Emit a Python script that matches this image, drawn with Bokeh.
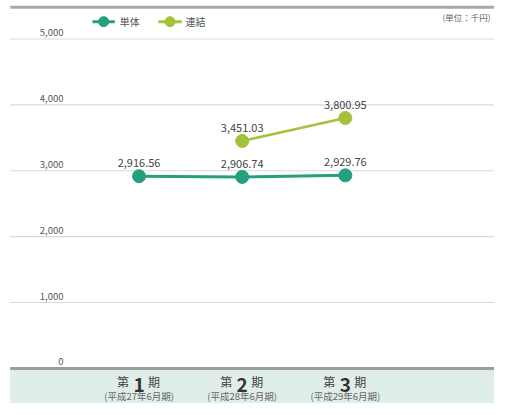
from bokeh.plotting import figure
from bokeh.models import Range1d
from bokeh.core.properties import value
from bokeh.embed import file_html
from bokeh.resources import INLINE

# ---- data ----
categories = ["第1期", "第2期", "第3期"]
period_nums = ["1", "2", "3"]
sub_labels = ["(平成27年6月期)", "(平成28年6月期)", "(平成29年6月期)"]
tantai = [2916.56, 2906.74, 2929.76]          # 単体
renketsu_cats = ["第2期", "第3期"]
renketsu = [3451.03, 3800.95]                 # 連結
y_ticks = [0, 1000, 2000, 3000, 4000, 5000]
y_tick_labels = ["0", "1,000", "2,000", "3,000", "4,000", "5,000"]
unit_label = "(単位：千円)"

TEAL = "#24a07f"
LIME = "#a3c23b"
FONT = "Noto Sans CJK JP"

W, H = 494, 403
REF_W, REF_H = 510, 419
X0, X1 = -0.343, 4.446
Y0, Y1 = -533.0, 5584.0


def xd(xr):
    return X0 + xr / REF_W * (X1 - X0)


def yd(yr):
    return Y1 - yr / REF_H * (Y1 - Y0)


xpos = {c: i + 1 for i, c in enumerate(categories)}
xs = [xpos[c] for c in categories]
xs_r = [xpos[c] for c in renketsu_cats]

p = figure(width=W, height=H, output_backend="svg", toolbar_location=None,
           x_range=Range1d(X0, X1), y_range=Range1d(Y0, Y1),
           x_axis_type=None, y_axis_type=None, min_border=0)
p.grid.visible = False
p.outline_line_color = None
p.background_fill_color = "white"

# bottom band
p.quad(left=xd(10), right=X1, top=yd(383), bottom=Y0,
       fill_color="#e0eee9", line_color=None)

# top rule and unit label
p.segment(x0=xd(10), x1=X1, y0=yd(7), y1=yd(7), line_color="#a9a9a9", line_width=3)
p.text(x=[xd(506)], y=[yd(11)], text=[unit_label], text_align="right",
       text_baseline="top", text_font=value(FONT), text_font_size="8.5px",
       text_color="#666666")

# gridlines
grid_y = [t for t in y_ticks if t != 0]
p.segment(x0=[xd(10)] * len(grid_y), x1=[X1] * len(grid_y), y0=grid_y, y1=grid_y,
          line_color="#d9d9d9", line_width=1.2)
p.segment(x0=xd(10), x1=X1, y0=0, y1=0, line_color="#9c9c9c", line_width=3)

# y tick labels
p.text(x=[xd(65)] * len(y_ticks), y=y_ticks, text=y_tick_labels, text_align="right",
       text_baseline="bottom", y_offset=-3, text_font=value(FONT),
       text_font_size="9.5px", text_color="#555555")

# series
p.line(xs, tantai, line_color=TEAL, line_width=3)
p.scatter(xs, tantai, size=13, fill_color=TEAL, line_color=TEAL)
p.line(xs_r, renketsu, line_color=LIME, line_width=2.5)
p.scatter(xs_r, renketsu, size=13, fill_color=LIME, line_color=LIME)

p.text(x=xs, y=tantai, text=[f"{v:,.2f}" for v in tantai], text_align="center",
       text_baseline="bottom", y_offset=-9, text_font=value(FONT),
       text_font_size="11px", text_color="#444444")
p.text(x=xs_r, y=renketsu, text=[f"{v:,.2f}" for v in renketsu], text_align="center",
       text_baseline="bottom", y_offset=-9, text_font=value(FONT),
       text_font_size="11px", text_color="#444444")

# legend (manual)
ly = yd(22)
p.segment(x0=xd(95), x1=xd(118), y0=ly, y1=ly, line_color=TEAL, line_width=3)
p.scatter([xd(106.5)], [ly], size=10, fill_color=TEAL, line_color=TEAL)
p.text(x=[xd(123)], y=[ly], text=["単体"], text_align="left", text_baseline="middle",
       text_font=value(FONT), text_font_size="10px", text_color="#555555")
p.segment(x0=xd(163), x1=xd(187), y0=ly, y1=ly, line_color=LIME, line_width=3)
p.scatter([xd(175)], [ly], size=10, fill_color=LIME, line_color=LIME)
p.text(x=[xd(191)], y=[ly], text=["連結"], text_align="left", text_baseline="middle",
       text_font=value(FONT), text_font_size="10px", text_color="#555555")

# x category labels
lab_y = [yd(405)] * len(xs)
p.text(x=xs, y=lab_y, text=["第"] * len(xs), text_align="right", text_baseline="bottom",
       x_offset=-10, text_font=value(FONT), text_font_size="12px", text_color="#444444")
p.text(x=xs, y=lab_y, text=period_nums, text_align="center", text_baseline="bottom",
       y_offset=2, text_font=value(FONT), text_font_size="19px", text_font_style="bold",
       text_color="#333333")
p.text(x=xs, y=lab_y, text=["期"] * len(xs), text_align="left", text_baseline="bottom",
       x_offset=9, text_font=value(FONT), text_font_size="12px", text_color="#444444")
p.text(x=xs, y=[yd(418)] * len(xs), text=sub_labels, text_align="center",
       text_baseline="bottom", text_font=value(FONT), text_font_size="9.5px",
       text_color="#666666")

open("out.html", "w").write(file_html(p, INLINE))
